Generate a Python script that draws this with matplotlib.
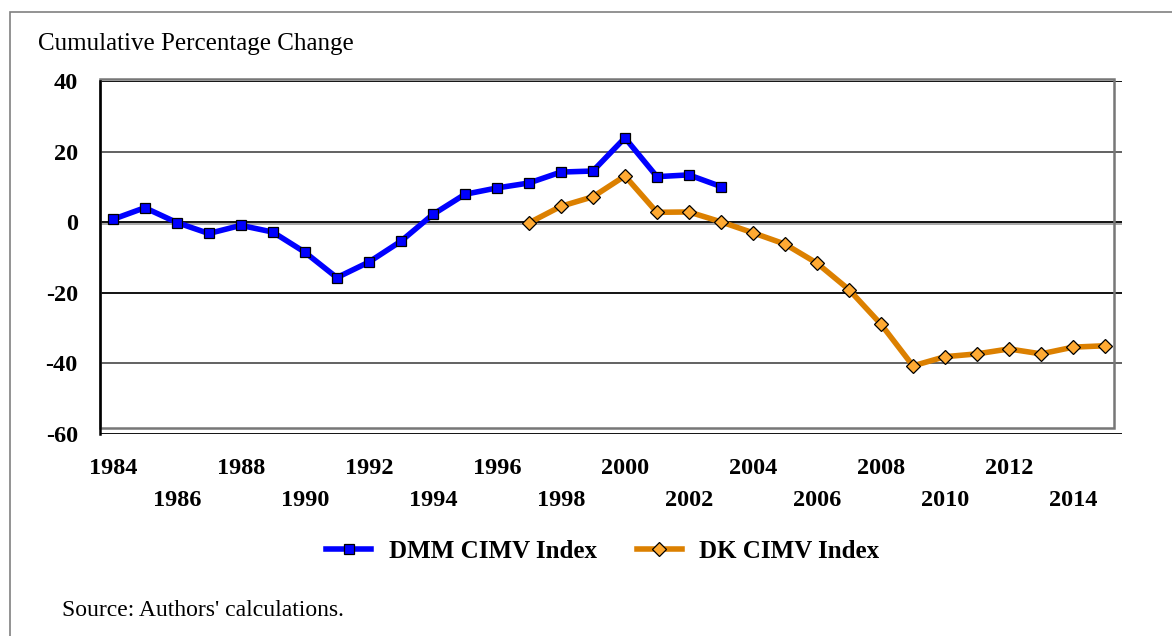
import matplotlib
matplotlib.use("Agg")
import matplotlib.pyplot as plt
from matplotlib.patches import Rectangle

plt.rcParams['font.family'] = ['Liberation Serif', 'DejaVu Serif']

# cumulative percentage change
dmm_years = list(range(1984, 2004))
dmm_vals = [0.8, 4.1, -0.1, -3.2, -0.9, -2.8, -8.5, -15.7, -11.3, -5.4,
            2.2, 7.9, 9.7, 11.1, 14.2, 14.5, 23.9, 12.9, 13.4, 10.1]

dk_years = list(range(1997, 2016))
dk_vals = [-0.2, 4.5, 7.2, 13.1, 2.8, 2.9, 0.1, -3.0, -6.2, -11.6,
           -19.1, -28.9, -40.7, -38.1, -37.3, -35.9, -37.3, -35.4, -35.0]

yticks = [40, 20, 0, -20, -40, -60]
row1_years = list(range(1984, 2013, 4))
row2_years = list(range(1986, 2015, 4))

W, H = 1172, 636
fig = plt.figure(figsize=(W / 100, H / 100), dpi=100)

# outer frame of the figure
fig.patches.append(Rectangle((10 / W, -0.1), 1.2, 1.1 - 12 / H, transform=fig.transFigure,
                             fill=False, edgecolor='#808080', linewidth=1.2))

left, right, top, bottom = 100, 1122, 81, 434
ax = fig.add_axes([left / W, 1 - bottom / H, (right - left) / W, (bottom - top) / H])

ax.set_xlim(1983.6, 2015.53)
ax.set_ylim(-60, 40)

# horizontal grid lines
for v in yticks:
    c = 'black' if v in (40, 0, -60, -20) else '#555555'
    ax.axhline(v, color=c, linewidth=1.3, zorder=1)
ax.axhline(-0.6, color='#999999', linewidth=1.2, zorder=1)

# plot area box
ax.add_patch(Rectangle((0, 0.017), 0.992, 0.99, transform=ax.transAxes, fill=False,
                       edgecolor='#777777', linewidth=1.8, zorder=1, clip_on=False))

ax.plot(dmm_years, dmm_vals, color='#0000FF', linewidth=4, marker='s', markersize=7.5,
        markerfacecolor='#0000FF', markeredgecolor='black', markeredgewidth=0.9,
        label='DMM CIMV Index', zorder=3)
ax.plot(dk_years, dk_vals, color='#DC8000', linewidth=4, marker='D', markersize=7,
        markerfacecolor='#FFAA33', markeredgecolor='black', markeredgewidth=0.9,
        label='DK CIMV Index', zorder=3)

for s in ['top', 'right', 'bottom']:
    ax.spines[s].set_visible(False)
ax.spines['left'].set_linewidth(1.8)
ax.spines['left'].set_color('black')

ax.set_yticks(yticks)
ax.set_yticklabels([str(v) for v in yticks], fontsize=17.5, fontweight='bold')
ax.tick_params(axis='y', length=0, pad=16)

ax.set_xticks(row1_years)
ax.set_xticklabels([str(y) for y in row1_years], fontsize=17.5, fontweight='bold')
ax.set_xticks(row2_years, minor=True)
ax.set_xticklabels([str(y) for y in row2_years], minor=True, fontsize=17.5, fontweight='bold')
ax.tick_params(axis='x', which='major', length=0, pad=17)
ax.tick_params(axis='x', which='minor', length=0, pad=40)

fig.text(38 / W, 1 - 44 / H, 'Cumulative Percentage Change', fontsize=18,
         ha='left', va='center')
fig.text(62 / W, 1 - 611 / H, "Source: Authors' calculations.", fontsize=17,
         ha='left', va='center')

fig.legend(loc='center', bbox_to_anchor=(603 / W, 1 - 551 / H), ncol=2, frameon=False,
           prop={'size': 18, 'weight': 'bold'}, handlelength=1.8, handletextpad=0.7,
           columnspacing=1.6)

fig.savefig('out.png', dpi=100)
